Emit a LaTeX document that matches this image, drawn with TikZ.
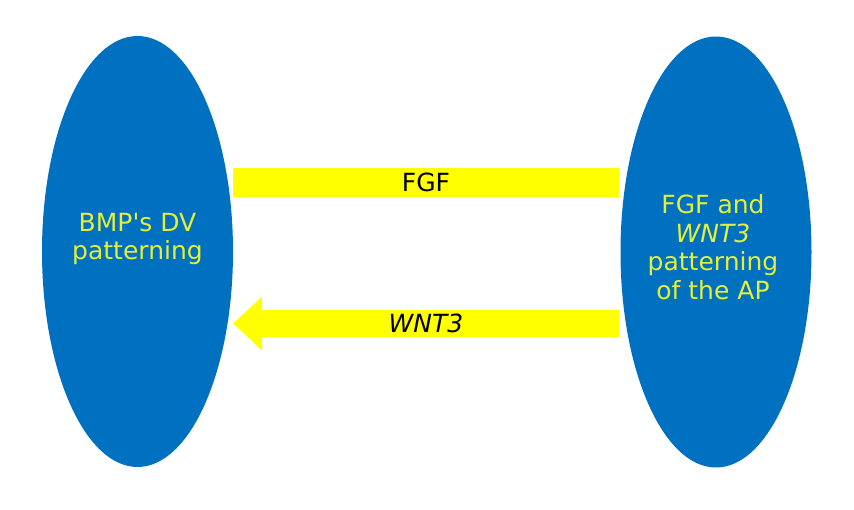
\documentclass[tikz,border=0pt]{standalone}
\usepackage{fontspec}
\setmainfont{DejaVu Sans}[Ligatures=TeXOff]
\usetikzlibrary{shapes.geometric, arrows.meta}
\definecolor{cellblue}{RGB}{0,112,192}
\definecolor{sigyellow}{RGB}{255,255,0}
\definecolor{labelyellow}{RGB}{228,240,56}
\begin{document}
\begin{tikzpicture}[x=1pt, y=1pt,
    region/.style={ellipse, fill=cellblue, draw=none, inner sep=0pt,
        minimum width=191pt, minimum height=431pt},
    regiontext/.style={text=labelyellow, align=center, font=\fontsize{25}{28.5}\selectfont},
    signal/.style={draw=sigyellow, line width=28pt},
    siglabel/.style={text=black, font=\fontsize{25}{28}\selectfont, inner sep=0pt}]
    \useasboundingbox (0, 0) rectangle (854, 509);
    \node[region] (DV) at (137.5, 257.5) {};
    \node[region] (AP) at (716, 257) {};
    \node[regiontext] (DVtext) at (137.5, 270) {BMP's DV\\patterning};
    \node[regiontext] (APtext) at (713, 262) {FGF and\\\textit{WNT3}\\patterning\\of the AP};
    \coordinate (fgfL) at (233, 326.5);
    \coordinate (fgfR) at (619, 326.5);
    \coordinate (wntL) at (233, 185.5);
    \coordinate (wntR) at (619, 185.5);
    \draw[signal, line width=29pt] (fgfL) -- node[siglabel] {FGF} (fgfR);
    \draw[signal, line width=27pt, -{Triangle[length=29pt, width=52pt]}, sigyellow] (wntR) -- node[siglabel] {\textit{WNT3}} (wntL);
\end{tikzpicture}
\end{document}
